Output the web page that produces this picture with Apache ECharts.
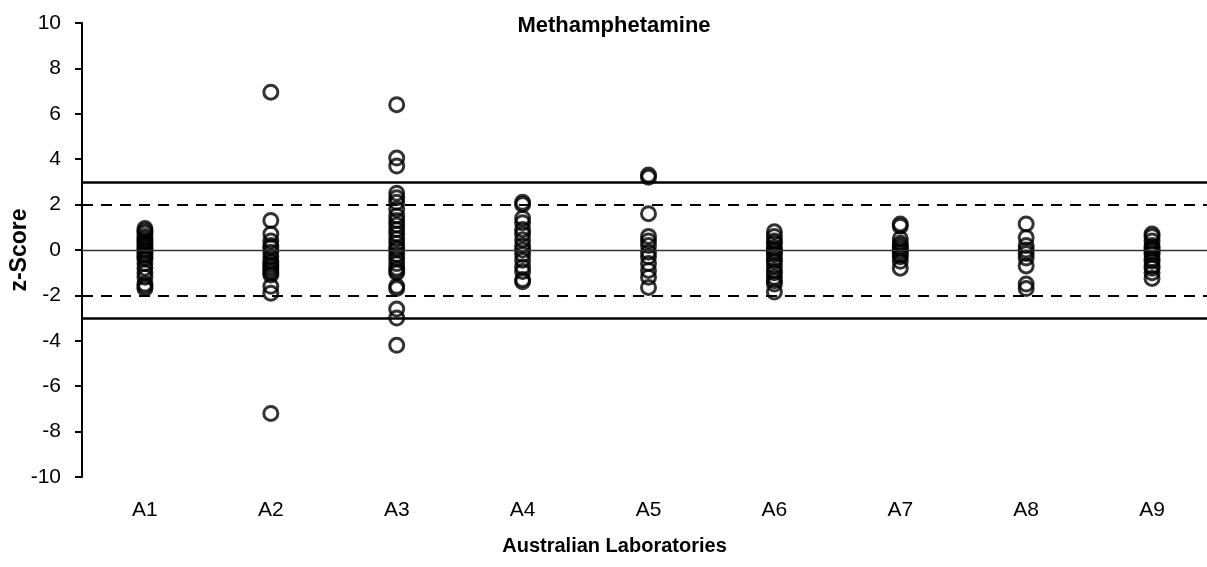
<!DOCTYPE html>
<html>
<head>
<meta charset="utf-8">
<script src="https://cdn.jsdelivr.net/npm/echarts@6/dist/echarts.min.js"></script>
<style>
  html, body { margin: 0; padding: 0; background: #ffffff; }
  #chart { width: 1207px; height: 567px; }
</style>
</head>
<body>
<div id="chart"></div>
<script>
// Laboratory codes on the category axis
const labs = ['A1', 'A2', 'A3', 'A4', 'A5', 'A6', 'A7', 'A8', 'A9'];

// z-scores reported for each laboratory
const zA1 = [0.95, 0.85, 0.75, 0.6, 0.5, 0.4, 0.3, 0.2, 0.1, 0, -0.1, -0.2, -0.3, -0.4, -0.6, -0.8, -1.0, -1.2, -1.5, -1.6, -1.7];
const zA2 = [6.95, 1.3, 0.7, 0.4, 0.2, 0.1, -0.1, -0.3, -0.5, -0.6, -0.7, -0.8, -0.9, -1.0, -1.1, -1.6, -1.9, -7.2];
const zA3 = [6.4, 4.05, 3.7, 2.5, 2.3, 2.1, 1.8, 1.5, 1.3, 1.1, 0.9, 0.7, 0.5, 0.3, 0.1, 0, -0.2, -0.4, -0.6, -0.8, -0.9, -1.0, -1.6, -1.7, -2.6, -3.0, -4.2];
const zA4 = [2.1, 2.0, 1.4, 1.2, 0.9, 0.7, 0.45, 0.2, 0, -0.2, -0.45, -0.75, -0.95, -1.3, -1.4];
const zA5 = [3.3, 3.2, 1.6, 0.6, 0.4, 0.2, -0.1, -0.3, -0.6, -0.9, -1.2, -1.65];
const zA6 = [0.8, 0.6, 0.4, 0.3, 0.1, 0, -0.1, -0.2, -0.4, -0.5, -0.7, -0.9, -1.0, -1.2, -1.35, -1.5, -1.85];
const zA7 = [1.15, 1.05, 0.5, 0.3, 0.2, 0.1, 0, -0.1, -0.2, -0.3, -0.5, -0.8];
const zA8 = [1.15, 0.55, 0.2, 0, -0.15, -0.35, -0.7, -1.5, -1.7];
const zA9 = [0.7, 0.6, 0.4, 0.2, 0.1, 0, -0.1, -0.2, -0.4, -0.5, -0.7, -0.8, -1.0, -1.25];

// Reference limits: |z| <= 2 satisfactory, |z| >= 3 unsatisfactory
const warningLimits = [2, -2];
const actionLimits = [3, -3];

const yTicks = { min: -10, max: 10, interval: 2 };

const scoresByLab = [zA1, zA2, zA3, zA4, zA5, zA6, zA7, zA8, zA9];
const points = [];
scoresByLab.forEach((scores, i) => {
  scores.forEach(z => points.push([labs[i], z]));
});

const chart = echarts.init(document.getElementById('chart'), null, { renderer: 'canvas' });

const font = 'Liberation Sans, Arial, Helvetica, sans-serif';

chart.setOption({
  animation: false,
  backgroundColor: '#ffffff',
  title: {
    text: 'Methamphetamine',
    left: 609,
    textAlign: 'center',
    top: 10,
    textStyle: { fontFamily: font, fontSize: 22, fontWeight: 'bold', color: '#000' }
  },
  grid: { left: 82, right: -8, top: 23, bottom: 90, containLabel: false, outerBoundsMode: 'none' },
  xAxis: {
    type: 'category',
    data: labs,
    boundaryGap: true,
    axisLine: { show: false },
    axisTick: { show: false },
    splitLine: { show: false },
    axisLabel: { fontFamily: font, fontSize: 21, color: '#000', margin: 23 },
    name: 'Australian Laboratories',
    nameLocation: 'middle',
    nameGap: 59,
    nameMoveOverlap: false,
    nameTextStyle: { fontFamily: font, fontSize: 20, fontWeight: 'bold', color: '#000', padding: [0, 68, 0, 0] }
  },
  yAxis: {
    type: 'value',
    min: yTicks.min,
    max: yTicks.max,
    interval: yTicks.interval,
    axisLine: { show: true, lineStyle: { color: '#000', width: 2 } },
    axisTick: { show: true, inside: false, length: 7, lineStyle: { color: '#000', width: 2 } },
    splitLine: { show: false },
    axisLabel: { fontFamily: font, fontSize: 21, color: '#000', margin: 21 },
    name: 'z-Score',
    nameLocation: 'middle',
    nameGap: 51,
    nameMoveOverlap: false,
    nameTextStyle: { fontFamily: font, fontSize: 23, fontWeight: 'bold', color: '#000' }
  },
  series: [
    {
      type: 'scatter',
      data: points,
      symbol: 'circle',
      symbolSize: 14,
      itemStyle: { color: 'rgba(0,0,0,0)', borderColor: '#000', borderWidth: 3 },
      z: 3,
      markLine: {
        silent: true,
        symbol: ['none', 'none'],
        label: { show: false },
        animation: false,
        data: [
          { yAxis: 0, lineStyle: { color: '#333', width: 1.3, type: 'solid' } },
          ...warningLimits.map(v => ({ yAxis: v, lineStyle: { color: '#000', width: 2, type: [11, 8] } })),
          ...actionLimits.map(v => ({ yAxis: v, lineStyle: { color: '#000', width: 2.5, type: 'solid' } }))
        ]
      }
    }
  ]
});
</script>
</body>
</html>
